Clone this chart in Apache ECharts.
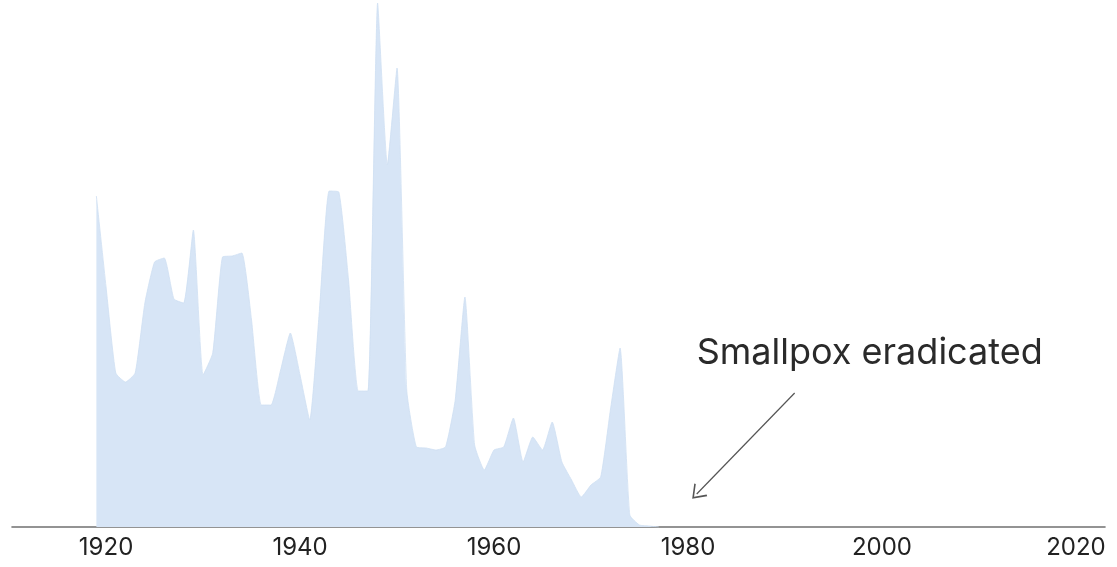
<!DOCTYPE html>
<html>
<head>
<meta charset="utf-8">
<script src="https://cdn.jsdelivr.net/npm/echarts@6/dist/echarts.min.js"></script>
<style>
  html, body { margin: 0; padding: 0; background: #fff; }
  #chart { width: 1117px; height: 567px; }
</style>
</head>
<body>
<div id="chart"></div>
<script>
// years of the series
const years = [
  1919, 1920, 1921, 1922, 1923, 1924, 1925, 1926, 1927, 1928,
  1929, 1930, 1931, 1932, 1933, 1934, 1935, 1936, 1937, 1938,
  1939, 1940, 1941, 1942, 1943, 1944, 1945, 1946, 1947, 1948,
  1949, 1950, 1951, 1952, 1953, 1954, 1955, 1956, 1957, 1958,
  1959, 1960, 1961, 1962, 1963, 1964, 1965, 1966, 1967, 1968,
  1969, 1970, 1971, 1972, 1973, 1974, 1975, 1976, 1977
];
// values (relative units, no y scale shown)
const cases = [
  331, 240, 154, 145, 154, 224, 265, 269, 228, 224,
  297, 152, 174, 270, 271, 274, 207, 122, 122, 157,
  194, 152, 107, 217, 336, 335, 247, 136, 136, 524,
  362, 459, 137, 80, 79, 77, 80, 127, 230, 82,
  57, 77, 80, 109, 65, 90, 77, 105, 65, 47,
  30, 42, 50, 117, 179, 12, 2, 1, 0
];
const tickYears = [1920, 1940, 1960, 1980, 2000, 2020];

const noteText = 'Smallpox eradicated';
const noteAt = [1980.9, 174];
const arrowFrom = [1991.0, 134];
const arrowTo = [1980.9, 33];

const chart = echarts.init(document.getElementById('chart'));

const option = {
  animation: false,
  grid: { left: 12, right: 12, top: 0, bottom: 40 },
  xAxis: {
    type: 'value',
    min: 1910.3,
    max: 2023,
    splitLine: { show: false },
    axisTick: { show: false },
    axisLine: { show: true, lineStyle: { color: '#707070', width: 1.6 } },
    axisLabel: {
      customValues: tickYears,
      color: '#222',
      fontSize: 24,
      fontFamily: 'Inter',
      margin: 9,
      formatter: v => String(v)
    }
  },
  yAxis: {
    type: 'value',
    min: 0,
    max: 527,
    show: false,
    splitLine: { show: false }
  },
  series: [
    {
      type: 'line',
      data: years.map((y, i) => [y, cases[i]]),
      symbol: 'none',
      smooth: 0.15,
      lineStyle: { width: 0.8, color: '#cfdff2' },
      areaStyle: { color: '#d7e5f6', opacity: 1 },
      markPoint: {
        symbol: 'circle',
        symbolSize: 0,
        silent: true,
        data: [{ coord: noteAt }],
        label: {
          show: true,
          position: 'right',
          distance: 0,
          formatter: noteText,
          color: '#2a2a2a',
          fontSize: 36,
          fontFamily: 'Inter'
        }
      },
      markLine: {
        silent: true,
        symbol: ['none', 'path://M0,10 L5,0 L10,10 L9.2,10.6 L5,2.2 L0.8,10.6 Z'],
        symbolSize: [18, 13],
        label: { show: false },
        lineStyle: { color: '#555', width: 1.2, type: 'solid' },
        data: [[{ coord: arrowFrom }, { coord: arrowTo }]]
      }
    }
  ]
};

chart.setOption(option);
</script>
</body>
</html>
